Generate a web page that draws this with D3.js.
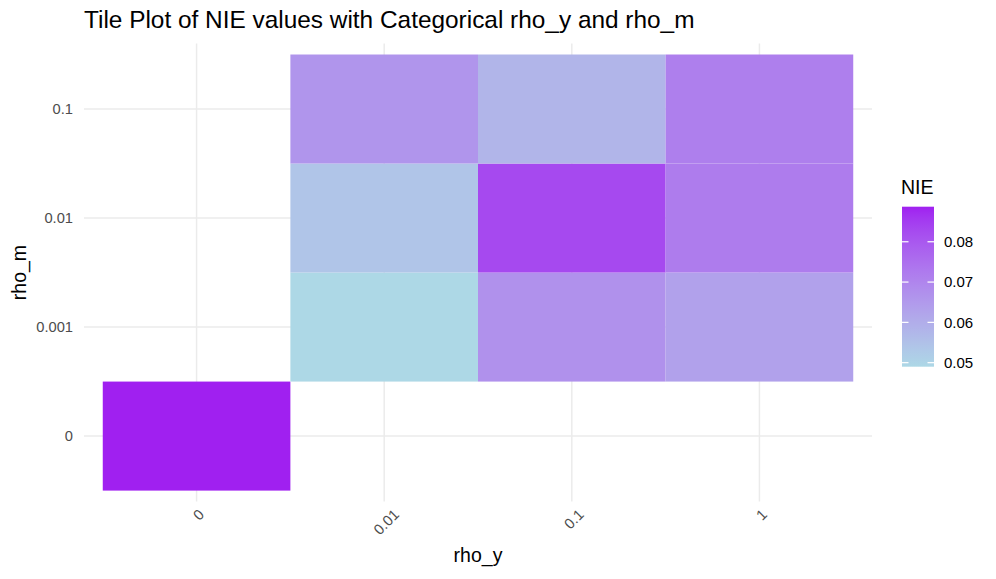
<!DOCTYPE html>
<html><head><meta charset="utf-8">
<script src="https://cdn.jsdelivr.net/npm/d3@7"></script>
<style>body{margin:0;background:#fff;} text{font-family:"Liberation Sans",Arial,Helvetica,sans-serif;}</style>
</head><body><svg id="c" width="996" height="579"></svg>
<script>
const rhoYLevels = ["0","0.01","0.1","1"];
const rhoMLevels = ["0","0.001","0.01","0.1"];
const tileRhoY = ["0","0.01","0.1","1","0.01","0.1","1","0.01","0.1","1"];
const tileRhoM = ["0","0.001","0.001","0.001","0.01","0.01","0.01","0.1","0.1","0.1"];
const tileNIE  = [0.0887,0.0490,0.0670,0.0630,0.0540,0.0830,0.0720,0.0660,0.0580,0.0715];
const legendTicks = [0.05,0.06,0.07,0.08];
const lowColor = "#ADD8E6", highColor = "#A020F0";

const svg = d3.select("#c");
const P = {l:84, r:872, t:43.6, b:501.5};
const x = d3.scalePoint().domain(rhoYLevels).range([P.l,P.r]).padding(0.6);
const y = d3.scalePoint().domain(rhoMLevels).range([P.b,P.t]).padding(0.6);
const bw = x.step(), bh = y.step();
const ext = d3.extent(tileNIE);
const color = d3.scaleSequential(d3.interpolateLab(lowColor, highColor)).domain(ext);

// grid
const g = svg.append("g");
g.selectAll(".hg").data(rhoMLevels).join("line")
  .attr("x1",P.l).attr("x2",P.r).attr("y1",d=>y(d)).attr("y2",d=>y(d))
  .attr("stroke","#EBEBEB").attr("stroke-width",1.5);
g.selectAll(".vg").data(rhoYLevels).join("line")
  .attr("y1",P.t).attr("y2",P.b).attr("x1",d=>x(d)).attr("x2",d=>x(d))
  .attr("stroke","#EBEBEB").attr("stroke-width",1.5);

// tiles
const tiles = tileNIE.map((v,i)=>({ry:tileRhoY[i], rm:tileRhoM[i], v}));
svg.selectAll(".tile").data(tiles).join("rect")
  .attr("x",d=>x(d.ry)-bw/2).attr("y",d=>y(d.rm)-bh/2)
  .attr("width",bw).attr("height",bh).attr("fill",d=>color(d.v));

// y tick labels
svg.selectAll(".yl").data(rhoMLevels).join("text")
  .attr("x",73).attr("y",d=>y(d)).attr("dy","0.35em").attr("text-anchor","end")
  .attr("font-size",14.7).attr("fill","#4D4D4D").text(d=>d);

// x tick labels rotated
rhoYLevels.forEach(d=>{
  const t = svg.append("text").attr("font-size",14.7).attr("fill","#4D4D4D")
    .attr("text-anchor","middle").attr("dy","0.35em").text(d);
  const w = t.node().getComputedTextLength();
  const half = (w + 11) * Math.SQRT1_2 / 2;
  t.attr("transform",`translate(${x(d)+2},${508 + half}) rotate(-45)`);
});

// axis titles
svg.append("text").attr("x",(P.l+P.r)/2).attr("y",562).attr("text-anchor","middle")
  .attr("font-size",19.5).attr("fill","#000").text("rho_y");
svg.append("text").attr("transform",`translate(26,${(P.t+P.b)/2}) rotate(-90)`)
  .attr("text-anchor","middle").attr("font-size",19.5).attr("fill","#000").text("rho_m");

// title
svg.append("text").attr("x",84).attr("y",28).attr("font-size",24.4).attr("fill","#000")
  .text("Tile Plot of NIE values with Categorical rho_y and rho_m");

// legend
const L = {x:902, w:32, top:206.7, bot:366.7};
const ly = d3.scaleLinear().domain(ext).range([L.bot, L.top]);
const defs = svg.append("defs");
const grad = defs.append("linearGradient").attr("id","lg").attr("x1",0).attr("x2",0).attr("y1",1).attr("y2",0);
d3.range(0,1.0001,0.05).forEach(s=>{
  grad.append("stop").attr("offset",s).attr("stop-color",color(ext[0]+s*(ext[1]-ext[0])));
});
svg.append("rect").attr("x",L.x).attr("y",L.top).attr("width",L.w).attr("height",L.bot-L.top).attr("fill","url(#lg)");
legendTicks.forEach(v=>{
  const yy = ly(v);
  svg.append("line").attr("x1",L.x).attr("x2",L.x+6.5).attr("y1",yy).attr("y2",yy).attr("stroke","#fff").attr("stroke-width",1.2);
  svg.append("line").attr("x1",L.x+L.w-6.5).attr("x2",L.x+L.w).attr("y1",yy).attr("y2",yy).attr("stroke","#fff").attr("stroke-width",1.2);
  svg.append("text").attr("x",944).attr("y",yy).attr("dy","0.35em").attr("font-size",15).attr("fill","#000").text(v.toFixed(2));
});
svg.append("text").attr("x",901).attr("y",194).attr("font-size",19.5).attr("fill","#000").text("NIE");
</script></body></html>
